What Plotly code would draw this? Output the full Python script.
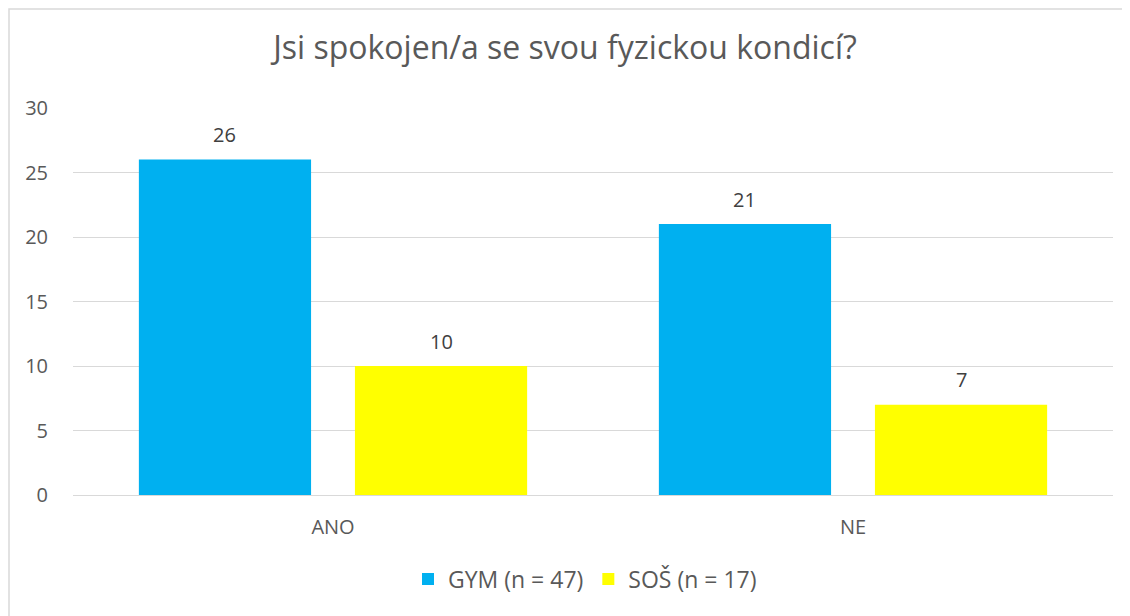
import plotly.graph_objects as go

categories = ["ANO", "NE"]
series_names = ["GYM (n = 47)", "SOŠ (n = 17)"]
gym_values = [26, 21]
sos_values = [10, 7]
y_ticks = [0, 5, 10, 15, 20, 25, 30]

colors = ["#00B0F0", "#FFFF00"]
font_family = "Open Sans, Liberation Sans, sans-serif"

# page body has an 8px margin; figure is sized to fit the visible window
W, H = 1122, 608
ML, MR, MT, MB = 65, 17, 100, 121
PW, PH = W - ML - MR, H - MT - MB
BARGAP, BARGROUPGAP = 0.169, 0.203
slot_px = PW / len(categories) * (1 - BARGAP) / 2

fig = go.Figure()
annotations = []
for i, (name, vals, col) in enumerate(zip(series_names, [gym_values, sos_values], colors)):
    fig.add_trace(go.Bar(
        x=categories, y=vals, name=name, marker=dict(color=col, line=dict(width=0)),
        cliponaxis=False,
    ))
    for c, v in zip(categories, vals):
        annotations.append(dict(
            x=c, y=v, xref="x", yref="y", text=str(v), showarrow=False,
            xshift=(i - 0.5) * slot_px, yshift=25, yanchor="middle", xanchor="center",
            font=dict(size=20, color="#404040", family=font_family),
        ))

fig.update_layout(
    width=W, height=H,
    margin=dict(l=ML, r=MR, t=MT, b=MB),
    paper_bgcolor="white", plot_bgcolor="white",
    barmode="group", bargap=BARGAP, bargroupgap=BARGROUPGAP,
    title=dict(text="Jsi spokojen/a se svou fyzickou kondicí?", x=(1130 / 2 - 8) / W, xanchor="center",
               y=1 - 40 / H, yanchor="middle",
               font=dict(size=32, color="#595959", family=font_family)),
    font=dict(family=font_family, color="#595959"),
    showlegend=True,
    legend=dict(orientation="h", x=(577 - ML) / PW, xanchor="center", y=-(571 - 487) / PH,
                yanchor="middle", font=dict(size=23, color="#595959"), traceorder="normal"),
    xaxis=dict(showgrid=False, showline=False, ticks="outside", ticklen=14,
               tickcolor="rgba(0,0,0,0)", tickfont=dict(size=20, color="#595959")),
    yaxis=dict(range=[0, 30], tickvals=y_ticks, showgrid=True, gridcolor="#D9D9D9", gridwidth=1,
               zeroline=True, zerolinecolor="#D9D9D9", zerolinewidth=1, showline=False,
               tickfont=dict(size=20, color="#595959"), ticks="outside", ticklen=20,
               tickcolor="rgba(0,0,0,0)"),
    annotations=annotations,
    shapes=[dict(type="rect", xref="paper", yref="paper",
                 x0=(1 - ML) / PW, x1=1.1, y0=-0.35, y1=1 + (MT - 1) / PH,
                 line=dict(color="#D9D9D9", width=1.5), fillcolor="rgba(0,0,0,0)", layer="below")],
)

fig.write_html("out.html")
